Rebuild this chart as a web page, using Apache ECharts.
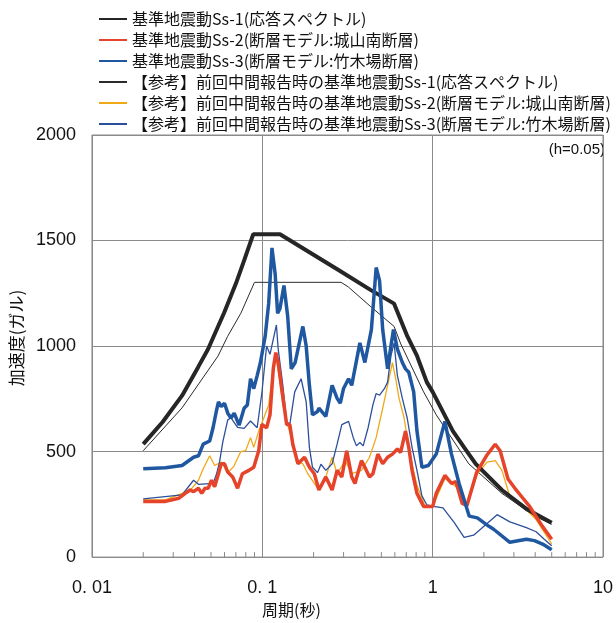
<!DOCTYPE html>
<html>
<head>
<meta charset="utf-8">
<script src="https://cdn.jsdelivr.net/npm/echarts/dist/echarts.min.js"></script>
<style>
  html, body { margin: 0; padding: 0; background: #fff; }
  #chart { width: 616px; height: 623px; }
</style>
</head>
<body>
<div id="chart"></div>
<script>
// period (s) / acceleration (gal)
const ss1Period = [0.02, 0.026, 0.0338, 0.042, 0.048, 0.0597, 0.07, 0.0778, 0.0885, 0.127, 0.28, 0.434, 0.594, 0.71, 0.81, 0.924, 1.0, 1.315, 1.53, 1.79, 2.55, 3.6, 5.0]
const ss1Accel = [535, 640, 765, 900, 985, 1158, 1296, 1400, 1530, 1530, 1360, 1265, 1201, 1047, 953, 829, 783, 597, 520, 442, 318, 225, 163]

const ss2Period = [0.02, 0.027, 0.0324, 0.0353, 0.0377, 0.0395, 0.0422, 0.0441, 0.0461, 0.0481, 0.0503, 0.0525, 0.0553, 0.0574, 0.06, 0.0627, 0.067, 0.0716, 0.0764, 0.0834, 0.0891, 0.0953, 0.0995, 0.106, 0.111, 0.116, 0.12, 0.124, 0.13, 0.139, 0.145, 0.151, 0.162, 0.177, 0.189, 0.202, 0.215, 0.236, 0.257, 0.275, 0.293, 0.313, 0.335, 0.35, 0.382, 0.4, 0.426, 0.446, 0.477, 0.509, 0.544, 0.581, 0.621, 0.649, 0.693, 0.724, 0.757, 0.809, 0.885, 1.0, 1.05, 1.18, 1.29, 1.37, 1.49, 1.59, 1.81, 2.07, 2.33, 2.49, 2.77, 3.04, 3.38, 3.71, 4.4, 5.0]
const ss2Accel = [264, 264, 279, 302, 318, 310, 326, 302, 326, 326, 364, 333, 395, 442, 442, 403, 380, 326, 395, 411, 426, 504, 628, 613, 674, 892, 969, 922, 798, 628, 628, 535, 442, 473, 426, 395, 318, 380, 318, 411, 380, 504, 380, 349, 457, 426, 380, 395, 488, 442, 473, 488, 512, 496, 597, 520, 411, 302, 240, 240, 302, 387, 349, 357, 255, 245, 400, 480, 535, 504, 370, 326, 280, 240, 147, 85]

const ss3Period = [0.02, 0.027, 0.0338, 0.0395, 0.0422, 0.045, 0.0491, 0.0514, 0.0537, 0.0553, 0.0574, 0.06, 0.0627, 0.0655, 0.0684, 0.0731, 0.0782, 0.0817, 0.0853, 0.0891, 0.0933, 0.0975, 0.104, 0.109, 0.114, 0.119, 0.123, 0.127, 0.134, 0.141, 0.148, 0.156, 0.162, 0.173, 0.181, 0.189, 0.197, 0.211, 0.215, 0.236, 0.257, 0.275, 0.287, 0.3, 0.321, 0.335, 0.374, 0.4, 0.437, 0.466, 0.488, 0.509, 0.544, 0.569, 0.589, 0.621, 0.664, 0.693, 0.724, 0.774, 0.809, 0.865, 0.944, 1.05, 1.18, 1.29, 1.43, 1.64, 1.83, 2.13, 2.28, 2.84, 3.55, 3.96, 4.42, 5.0]
const ss3Accel = [419, 423, 434, 473, 480, 535, 550, 613, 690, 736, 713, 729, 682, 659, 682, 625, 705, 721, 845, 798, 860, 922, 1047, 1201, 1465, 1341, 1155, 1178, 1287, 1140, 892, 922, 985, 1093, 1000, 814, 674, 690, 706, 667, 814, 752, 729, 799, 845, 814, 1015, 922, 1078, 1372, 1310, 1078, 892, 1000, 1078, 985, 922, 892, 876, 783, 597, 426, 434, 488, 643, 488, 349, 194, 186, 147, 132, 70, 85, 78, 62, 35]

const refSs1Period = [0.02, 0.0338, 0.055, 0.0626, 0.0748, 0.09, 0.29, 0.32, 0.434, 0.594, 0.65, 0.885, 1.05, 1.63, 2.55, 3.96, 5.0]
const refSs1Accel = [504, 707, 953, 1046, 1155, 1302, 1302, 1280, 1186, 1093, 1010, 783, 674, 442, 302, 195, 155]

const refSs2Period = [0.02, 0.027, 0.0338, 0.0386, 0.0422, 0.045, 0.0491, 0.0525, 0.0574, 0.0627, 0.0681, 0.0748, 0.0798, 0.0853, 0.0891, 0.0953, 0.102, 0.109, 0.116, 0.121, 0.127, 0.132, 0.139, 0.148, 0.158, 0.173, 0.185, 0.202, 0.215, 0.236, 0.257, 0.275, 0.307, 0.335, 0.382, 0.426, 0.466, 0.509, 0.544, 0.581, 0.607, 0.635, 0.68, 0.709, 0.757, 0.809, 0.904, 1.0, 1.18, 1.29, 1.41, 1.57, 1.83, 2.09, 2.33, 2.55, 2.84, 3.39, 4.05, 5.0]
const refSs2Accel = [271, 271, 302, 326, 364, 419, 480, 434, 450, 400, 430, 500, 504, 566, 520, 597, 659, 721, 892, 938, 829, 721, 643, 566, 457, 442, 395, 349, 318, 380, 473, 395, 457, 395, 411, 473, 566, 705, 814, 922, 845, 752, 659, 566, 440, 340, 240, 240, 372, 349, 326, 240, 395, 450, 457, 411, 287, 240, 178, 62]

const refSs3Period = [0.02, 0.0338, 0.0395, 0.0422, 0.0514, 0.0537, 0.0561, 0.0586, 0.0627, 0.0655, 0.0716, 0.0782, 0.0853, 0.0933, 0.0995, 0.106, 0.111, 0.121, 0.124, 0.132, 0.139, 0.145, 0.155, 0.169, 0.181, 0.189, 0.197, 0.211, 0.221, 0.236, 0.257, 0.275, 0.293, 0.321, 0.342, 0.357, 0.374, 0.391, 0.418, 0.446, 0.466, 0.488, 0.521, 0.544, 0.569, 0.594, 0.621, 0.664, 0.709, 0.757, 0.809, 0.865, 0.924, 1.01, 1.15, 1.34, 1.53, 1.74, 1.91, 2.39, 2.84, 3.55, 4.05, 4.52, 5.0]
const refSs3Accel = [276, 295, 364, 345, 349, 390, 450, 545, 650, 660, 615, 610, 645, 613, 780, 1000, 961, 1100, 985, 814, 643, 628, 783, 845, 736, 520, 426, 400, 440, 411, 442, 535, 628, 643, 566, 527, 543, 527, 613, 721, 775, 767, 798, 829, 953, 1015, 860, 752, 659, 520, 411, 290, 248, 240, 233, 163, 93, 104, 132, 201, 167, 140, 120, 85, 54]

const seriesNames = [
  '基準地震動Ss-1(応答スペクトル)',
  '基準地震動Ss-2(断層モデル:城山南断層)',
  '基準地震動Ss-3(断層モデル:竹木場断層)',
  '【参考】前回中間報告時の基準地震動Ss-1(応答スペクトル)',
  '【参考】前回中間報告時の基準地震動Ss-2(断層モデル:城山南断層)',
  '【参考】前回中間報告時の基準地震動Ss-3(断層モデル:竹木場断層)'
]

const xTickLabels = ['0. 01', '0. 1', '1', '10']
const yTicks = [0, 500, 1000, 1500, 2000]
const minorTicks = [0.02, 0.03, 0.04, 0.05, 0.06, 0.07, 0.08, 0.09, 0.2, 0.3, 0.4, 0.5, 0.6, 0.7, 0.8, 0.9, 2, 3, 4, 5, 6, 7, 8, 9]

const zip = (xs, ys) => xs.map((x, i) => [x, ys[i]])

const lineSeries = (name, xs, ys, color, width, z) => ({
  name,
  type: 'line',
  data: zip(xs, ys),
  symbol: 'none',
  smooth: false,
  z,
  lineStyle: { color, width },
  itemStyle: { color }
})

const chart = echarts.init(document.getElementById('chart'), null, { renderer: 'canvas' })

const option = {
  animation: false,
  backgroundColor: '#fff',
  textStyle: { fontFamily: '"Noto Sans CJK JP", "Noto Sans", sans-serif' },
  legend: {
    data: seriesNames,
    orient: 'vertical',
    left: 93,
    top: 6,
    itemWidth: 28,
    itemHeight: 14,
    itemGap: 5,
    itemStyle: { opacity: 0 },
    textStyle: {
      fontSize: 16,
      lineHeight: 16,
      color: '#111',
      fontFamily: '"Noto Sans CJK JP", sans-serif'
    }
  },
  grid: {
    left: 88,
    right: 7,
    top: 135,
    bottom: 58,
    show: true,
    borderColor: '#8a8a8a',
    borderWidth: 1
  },
  xAxis: {
    type: 'log',
    logBase: 10,
    min: 0.01,
    max: 10,
    name: '周期(秒)',
    nameLocation: 'middle',
    nameGap: 40,
    nameTextStyle: {
      fontSize: 16,
      color: '#111',
      padding: [0, 112, 0, 0]
    },
    axisLine: { show: false },
    axisTick: { show: false },
    splitLine: { show: true, lineStyle: { color: '#8a8a8a', width: 1 } },
    axisLabel: {
      fontSize: 18,
      color: '#111',
      margin: 22,
      fontFamily: '"Liberation Sans", Arial, sans-serif',
      formatter: (v) => xTickLabels[Math.round(Math.log10(v)) + 2]
    }
  },
  yAxis: {
    type: 'value',
    min: yTicks[0],
    max: yTicks[yTicks.length - 1],
    interval: 500,
    name: '加速度(ガル)',
    nameLocation: 'middle',
    nameGap: 52,
    nameTextStyle: {
      fontSize: 17,
      color: '#111',
      padding: [0, 0, 0, 16]
    },
    axisLine: { show: false },
    axisTick: { show: false },
    splitLine: { show: true, lineStyle: { color: '#8a8a8a', width: 1 } },
    axisLabel: {
      fontSize: 18,
      color: '#111',
      margin: 16,
      fontFamily: '"Liberation Sans", Arial, sans-serif',
      formatter: (v) => String(v)
    }
  },
  graphic: [
    {
      type: 'text',
      right: 11,
      top: 142,
      style: {
        text: '(h=0.05)',
        fontSize: 15,
        fill: '#111',
        fontFamily: '"Liberation Sans", Arial, sans-serif'
      }
    }
  ],
  series: [
    {
      type: 'custom',
      silent: true,
      data: minorTicks.map((t) => [t, 0]),
      renderItem: (params, api) => {
        const p = api.coord([api.value(0), api.value(1)])
        return {
          type: 'line',
          shape: { x1: p[0], y1: p[1], x2: p[0], y2: p[1] - 5 },
          style: { stroke: '#8a8a8a', lineWidth: 1 }
        }
      },
      z: 1
    },
    lineSeries(seriesNames[3], refSs1Period, refSs1Accel, '#2b2b2b', 1, 3),
    lineSeries(seriesNames[4], refSs2Period, refSs2Accel, '#f0a818', 1.3, 3),
    lineSeries(seriesNames[5], refSs3Period, refSs3Accel, '#2c4f9c', 1.3, 3),
    lineSeries(seriesNames[0], ss1Period, ss1Accel, '#262626', 4, 4),
    lineSeries(seriesNames[1], ss2Period, ss2Accel, '#e5432a', 3.5, 4),
    lineSeries(seriesNames[2], ss3Period, ss3Accel, '#1f58a0', 3.5, 5)
  ]
}

chart.setOption(option)
</script>
</body>
</html>
